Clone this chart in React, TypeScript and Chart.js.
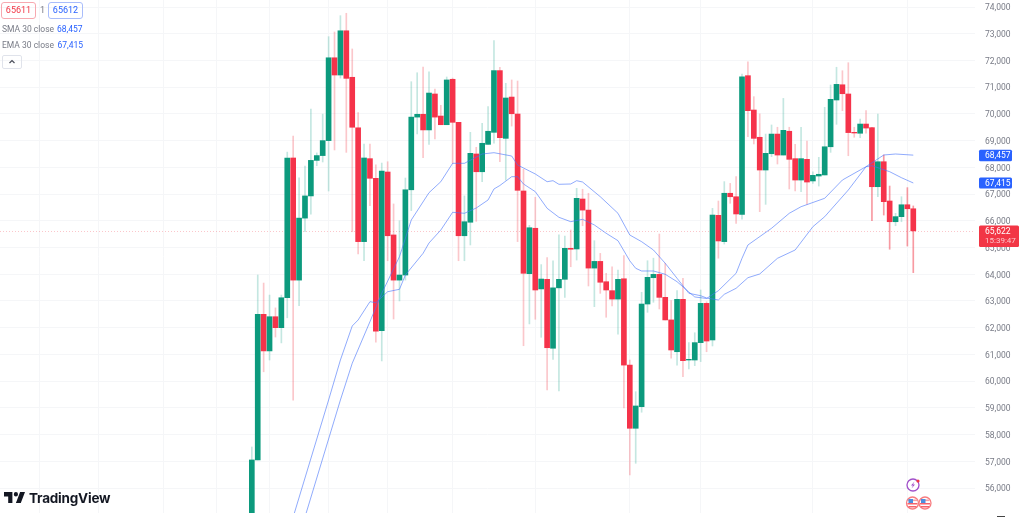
import React, { useEffect, useRef } from "react";
import { Chart, registerables } from "chart.js";

Chart.register(...registerables);

const opens = [55000,57050,62500,61130,62410,62000,63120,68350,63780,66100,66930,68260,68440,69000,72100,71455,73110,71370,69480,65220,68325,67590,61890,67825,65470,63780,63970,67160,69880,69985,69400,70745,69920,69595,71295,69685,65440,65945,68500,67835,68860,69310,71620,69085,70630,69995,67115,64020,65720,63450,63810,61230,63490,63810,64970,64945,66815,66400,64230,64480,63720,63385,63070,63830,60600,58235,59045,62885,63870,63995,63135,62290,61100,63060,60790,60790,61440,62910,61540,66205,65220,67030,66900,66240,71430,70145,69125,67900,68510,69245,68460,69350,68325,67525,68300,67490,67675,67715,68770,70520,71090,70745,69310,69275,69620,69485,67275,68210,66740,65965,66155,66600,66450];
const highs = [57535,63970,63670,63220,62740,63220,68570,69170,67610,68050,70180,68540,69990,72890,73065,73675,73765,72430,70045,68870,68870,68090,68160,68210,66630,66000,67600,71205,71540,71755,71570,70930,70320,71380,71340,69685,66930,69310,68750,69650,70270,72740,71745,71145,71270,71230,67925,65830,66880,64360,64620,64505,65470,65430,65655,67215,67180,67030,65255,64780,64035,64280,64160,64695,60790,59605,63325,64505,64600,65505,64410,63010,63385,63850,61440,61810,63410,62970,66465,66740,67465,67400,67650,71490,71950,70645,70000,69245,69585,69500,70580,69500,68860,69500,68985,67835,68375,70245,71080,71745,71615,71915,69500,69810,70120,69485,69995,68460,67300,66280,66900,67240,66555];
const lows = [54800,57050,60350,60790,61650,61430,62370,59290,62820,65590,66250,68060,68200,67115,68650,71340,68560,65590,64760,64505,66565,61455,60755,64505,62325,63000,63780,66380,69250,68360,68860,69060,69595,69595,68150,64505,64505,65095,65980,67460,68860,68900,68210,67525,69545,65220,61325,62140,62315,61640,59670,60815,59630,63135,64280,64530,65815,63560,62785,63285,62390,62810,61760,58995,56490,56925,58835,62575,62950,62700,62290,60855,60600,60165,60455,60580,60730,61100,61315,64600,65130,66655,65905,66065,69145,68875,66340,66615,68400,68125,68460,67190,67115,67090,66615,67400,67300,67715,68560,69610,70120,68435,69125,69110,69275,66000,66900,66215,64935,65815,65965,65055,64060];
const closes = [57050,62500,61130,62410,62000,63120,68350,63780,66100,66930,68260,68440,69000,72100,71455,73110,71330,69500,65220,68350,67590,61865,67860,65440,63780,63970,67160,69880,69985,69400,70780,69880,69595,71270,69685,65440,65965,68525,67835,68900,69350,71620,69110,70595,70005,67140,64035,65740,63410,63820,61250,63490,63810,64970,64935,66840,66400,64230,64480,63700,63410,63070,63810,60600,58235,59070,62885,63885,63995,63135,62290,61165,63060,60765,60815,61440,62910,61500,66215,65245,67030,66900,66255,71390,70120,69085,67900,68525,69245,68460,69385,68300,67525,68325,67450,67700,67740,68770,70545,71105,70755,69300,69285,69620,69470,67275,68210,66715,65965,66155,66600,66450,65622];

const emaIndex = [7,13,15,17,18,20,21,23,25,26,29,30,32,34,36,38,40,41,42,44,45,46,48,50,52,54,56,58,60,62,64,65,66,68,70,72,74,75,77,79,82,83,84,88,91,93,97,100,104,105,108,110,112];
const emaValues = [54915,59294,60791,62063,62288,62973,62935,63346,63436,63972,64783,65169,65655,66318,66280,66478,66778,67190,67320,67650,67650,67377,67089,66467,66130,65966,66056,65843,65532,65255,64500,64222,64121,64121,63998,63721,63335,63150,63092,63384,64035,64596,65094,65719,66280,66527,66842,67526,68024,68061,67837,67612,67415];
const smaIndex = [9,15,17,20,22,25,27,30,32,34,36,39,41,44,45,47,48,50,51,52,54,55,56,59,62,64,66,68,70,72,74,76,77,79,80,82,84,86,89,92,95,97,101,104,107,109,112];
const smaValues = [54915,59294,60667,62224,63286,64656,66030,67051,67463,68151,68151,68499,68548,68424,68088,67863,67751,67463,67500,67365,67377,67500,67451,66901,66280,65468,65218,64907,64409,63848,63286,63197,63110,63036,63249,63474,63870,64009,64596,64907,65779,66153,67152,68024,68462,68499,68457];

const priceTicks = [56000,57000,58000,59000,60000,61000,62000,63000,64000,65000,66000,67000,68000,69000,70000,71000,72000,73000,74000];
const verticalGridIndex = [-36, -26, -15, -6, 3, 13, 23, 34, 48, 64, 76, 95, 111];

const SMA_LAST = 68457;
const EMA_LAST = 67415;
const LAST_PRICE = 65622;
const COUNTDOWN = "15:39:47";

const UP = "#0c9a7d";
const DOWN = "#f5334a";
const UP_WICK = "rgba(8,153,129,0.24)";
const DOWN_WICK = "rgba(242,54,69,0.28)";
const LINE = "rgba(70,115,250,0.6)";
const FONT = "Roboto, sans-serif";

const fmt = (v: number) => Math.round(v).toLocaleString("en-US");

const tagsPlugin = {
  id: "priceTags",
  afterDraw(chart: any) {
    const { ctx, scales } = chart;
    const y = scales.y;
    const drawTag = (value: number, top: number, h: number, w: number, color: string, second?: string) => {
      ctx.save();
      ctx.fillStyle = color;
      ctx.beginPath();
      ctx.roundRect(979, top, w, h, 1.5);
      ctx.fill();
      ctx.fillStyle = "#ffffff";
      ctx.font = `8.5px ${FONT}`;
      ctx.textAlign = "left";
      ctx.textBaseline = "middle";
      ctx.fillText(fmt(value), 985, y.getPixelForValue(value) + 0.5);
      if (second) {
        ctx.font = `8px ${FONT}`;
        ctx.fillStyle = "#fcc7cc";
        ctx.fillText(second, 985, y.getPixelForValue(value) + 10.5);
      }
      ctx.restore();
    };
    drawTag(SMA_LAST, y.getPixelForValue(SMA_LAST) - 5.5, 11.5, 33, "#2962ff");
    drawTag(EMA_LAST, y.getPixelForValue(EMA_LAST) - 5.5, 11, 33, "#2962ff");
    drawTag(LAST_PRICE, y.getPixelForValue(LAST_PRICE) - 5.5, 21.5, 40, "#f23645", COUNTDOWN);
  },
  beforeDatasetsDraw(chart: any) {
    const { ctx, scales, chartArea } = chart;
    const py = scales.y.getPixelForValue(LAST_PRICE);
    ctx.save();
    ctx.strokeStyle = "rgba(242,54,69,0.28)";
    ctx.lineWidth = 1;
    ctx.setLineDash([1, 2]);
    ctx.beginPath();
    ctx.moveTo(chartArea.left, Math.round(py) + 0.5);
    ctx.lineTo(chartArea.right, Math.round(py) + 0.5);
    ctx.stroke();
    ctx.restore();
  },
};

const boxStyle = (left: number, color: string, border: string): React.CSSProperties => ({
  position: "absolute",
  left,
  top: 2,
  width: 33,
  height: 15,
  border: `1px solid ${border}`,
  borderRadius: 3,
  color,
  fontSize: 9,
  lineHeight: "15px",
  textAlign: "center",
  fontFamily: FONT,
});

const abs = (left: number, top: number, color: string, size = 8.5): React.CSSProperties => ({
  position: "absolute",
  left,
  top,
  color,
  fontSize: size,
  lineHeight: "12px",
  fontFamily: FONT,
  whiteSpace: "nowrap",
});

const Flag = ({ cx }: { cx: number }) => (
  <g>
    <circle cx={cx} cy={503} r={6} fill="#ffffff" stroke="#f77c80" strokeWidth={1.3} />
    <rect x={cx - 4.5} y={499.5} width={9} height={1.6} fill="#f7a0a4" />
    <rect x={cx - 5} y={503} width={10} height={1.5} fill="#f7626b" />
    <rect x={cx - 4} y={506} width={8} height={1.5} fill="#f7626b" />
    <rect x={cx - 4} y={499} width={4.5} height={4} fill="#4a8fe0" />
  </g>
);

export default function App() {
  const ref = useRef<HTMLCanvasElement>(null);

  useEffect(() => {
    if (!ref.current) return;
    const idx = opens.map((_, i) => i);
    const isUp = (i: number) => closes[i] >= opens[i];
    const chart = new Chart(ref.current, {
      type: "bar",
      data: {
        datasets: [
          {
            type: "line",
            label: "SMA 30 close",
            data: smaIndex.map((x, i) => ({ x, y: smaValues[i] })),
            borderColor: LINE,
            borderWidth: 1,
            pointRadius: 0,
            tension: 0,
            order: 0,
          },
          {
            type: "line",
            label: "EMA 30 close",
            data: emaIndex.map((x, i) => ({ x, y: emaValues[i] })),
            borderColor: LINE,
            borderWidth: 1,
            pointRadius: 0,
            tension: 0,
            order: 0,
          },
          {
            type: "bar",
            label: "Body",
            data: idx.map((i) => ({ x: i, y: [opens[i], closes[i]] })),
            backgroundColor: idx.map((i) => (isUp(i) ? UP : DOWN)),
            borderSkipped: false,
            barThickness: 5,
            grouped: false,
            order: 1,
          },
          {
            type: "bar",
            label: "Wick",
            data: idx.map((i) => ({ x: i, y: [lows[i], highs[i]] })),
            backgroundColor: idx.map((i) => (isUp(i) ? UP_WICK : i >= 105 ? "rgba(242,54,69,0.5)" : DOWN_WICK)),
            borderSkipped: false,
            barThickness: 1,
            grouped: false,
            order: 2,
          },
        ] as any,
      },
      options: {
        responsive: false,
        animation: false,
        layout: { padding: { left: 0, right: 0, top: 0, bottom: 4 } },
        plugins: { legend: { display: false }, tooltip: { enabled: false } },
        scales: {
          x: {
            type: "linear",
            display: true,
            offset: false,
            min: -42.64,
            max: 122.45,
            afterBuildTicks: (axis: any) => {
              axis.ticks = verticalGridIndex.map((value) => ({ value }));
            },
            afterFit: (axis: any) => {
              axis.height = 0;
              axis.paddingLeft = 0;
              axis.paddingRight = 0;
            },
            ticks: { display: false, padding: 0 },
            grid: { color: "#f5f6f8", drawTicks: false, offset: false },
            border: { display: false },
          },
          y: {
            type: "linear",
            position: "right",
            min: 55065,
            max: 74262,
            afterBuildTicks: (axis: any) => {
              axis.ticks = priceTicks.map((value) => ({ value }));
            },
            afterFit: (axis: any) => {
              axis.width = 49;
              axis.paddingTop = 0;
              axis.paddingBottom = 0;
            },
            ticks: {
              padding: 10,
              autoSkip: false,
              labelOffset: 1.2,
              color: "#787b86",
              font: { family: FONT, size: 8.5 },
              callback: (v: any) => fmt(Number(v)),
            },
            grid: { color: "#f5f6f8", drawTicks: false },
            border: { display: false },
          },
        },
      } as any,
      plugins: [tagsPlugin as any],
    });
    return () => chart.destroy();
  }, []);

  return (
    <div style={{ position: "fixed", left: 0, top: 0, width: 1024, height: 517, background: "#fff", overflow: "hidden" }}>
      <canvas ref={ref} width={1024} height={517} style={{ position: "absolute", left: 0, top: 0, display: "block" }} />

      <div style={boxStyle(1, "#f23645", "#f7a9b0")}>65611</div>
      <div style={abs(40, 4, "#787b86", 9)}>1</div>
      <div style={boxStyle(48, "#2962ff", "#a9bdfb")}>65612</div>
      <div style={abs(2, 23, "#787b86")}>SMA 30 close</div>
      <div style={abs(57, 23, "#2962ff")}>68,457</div>
      <div style={abs(2, 39, "#787b86")}>EMA 30 close</div>
      <div style={abs(57.5, 39, "#2962ff")}>67,415</div>
      <div style={{ position: "absolute", left: 2, top: 55, width: 18, height: 12, border: "1px solid #e0e3eb", borderRadius: 2 }}>
        <svg width={18} height={12} style={{ position: "absolute", left: 0, top: 0 }}>
          <path d="M6.5 7 L9 4.5 L11.5 7" fill="none" stroke="#4a4e5a" strokeWidth={1.2} />
        </svg>
      </div>

      <svg width={1024} height={517} style={{ position: "absolute", left: 0, top: 0, pointerEvents: "none" }}>
        <svg x={4} y={492} width={21} height={11} viewBox="2 6 30 15" preserveAspectRatio="none">
          <path d="M14 6H2v6h6v9h6V6Zm12 15h-7l6-15h7l-6 15Zm-7-9a3 3 0 1 0 0-6 3 3 0 0 0 0 6Z" fill="#131722" />
        </svg>
        <circle cx={913} cy={485} r={6} fill="#ffffff" stroke="#a04fc9" strokeWidth={1.3} />
        <path d="M914.5 481.5 L911 485.5 L913 485.5 L911.5 488.5 L915 484.5 L913 484.5 Z" fill="#a04fc9" />
        <circle cx={918} cy={481} r={1.6} fill="#f23645" />
        <Flag cx={912.5} />
        <Flag cx={925} />
        <rect x={997} y={516} width={8} height={1} fill="#444" />
      </svg>
      <div style={{ position: "absolute", left: 29, top: 490, color: "#131722", fontFamily: "Inter, sans-serif", fontWeight: 700, fontSize: 13.5, lineHeight: "17px", letterSpacing: -0.2 }}>
        TradingView
      </div>
    </div>
  );
}
